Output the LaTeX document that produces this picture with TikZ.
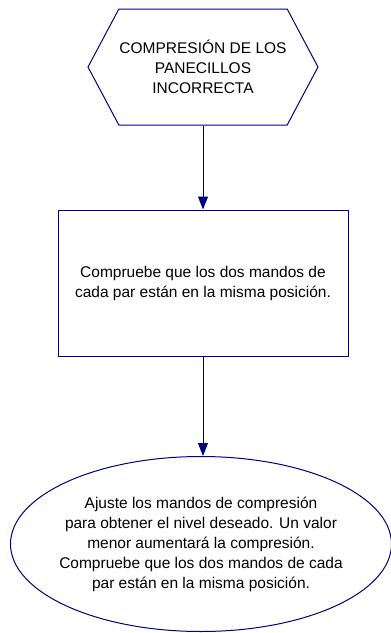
\documentclass[tikz,border=0pt]{standalone}
\usepackage{fontspec}
\setmainfont{Liberation Sans}
\usepackage{tikz}
\usetikzlibrary{shapes.geometric,shapes.symbols,arrows.meta}
\definecolor{NavyLine}{RGB}{0,0,128}

\begin{document}
\begin{tikzpicture}[
  x=1pt, y=-1pt,
  every node/.style={font=\fontsize{15.5}{20}\selectfont, align=center, text=black},
  problem/.style={signal, signal to=west and east, signal pointer angle=124, draw=NavyLine, line width=1pt, minimum width=230pt, minimum height=116pt, inner sep=0pt},
  checkbox/.style={rectangle, draw=NavyLine, line width=1pt, minimum width=290pt, minimum height=146pt},
  fixoval/.style={ellipse, draw=NavyLine, line width=1pt, minimum width=381pt, minimum height=175pt, inner xsep=-12pt, inner ysep=0pt},
  flowarrow/.style={-{Triangle[length=13pt,width=10pt]}, NavyLine, line width=1pt}
]
\useasboundingbox (0,0) rectangle (391,633);

% Problem
\node[problem] (problem) at (203,67) {COMPRESIÓN DE LOS\\PANECILLOS\\INCORRECTA};

% Check
\node[checkbox] (check) at (203,283) {Compruebe que los dos mandos de\\cada par están en la misma posición.};

% Adjustment
\node[fixoval] (adjust) at (201,544) {Ajuste los mandos de compresión\\para obtener el nivel deseado. Un valor\\menor aumentará la compresión.\\Compruebe que los dos mandos de cada\\par están en la misma posición.};

% Arrows
\draw[flowarrow] (problem.south) -- (check.north);
\draw[flowarrow] (check.south) -- (adjust.north -| check.south);

\end{tikzpicture}
\end{document}
